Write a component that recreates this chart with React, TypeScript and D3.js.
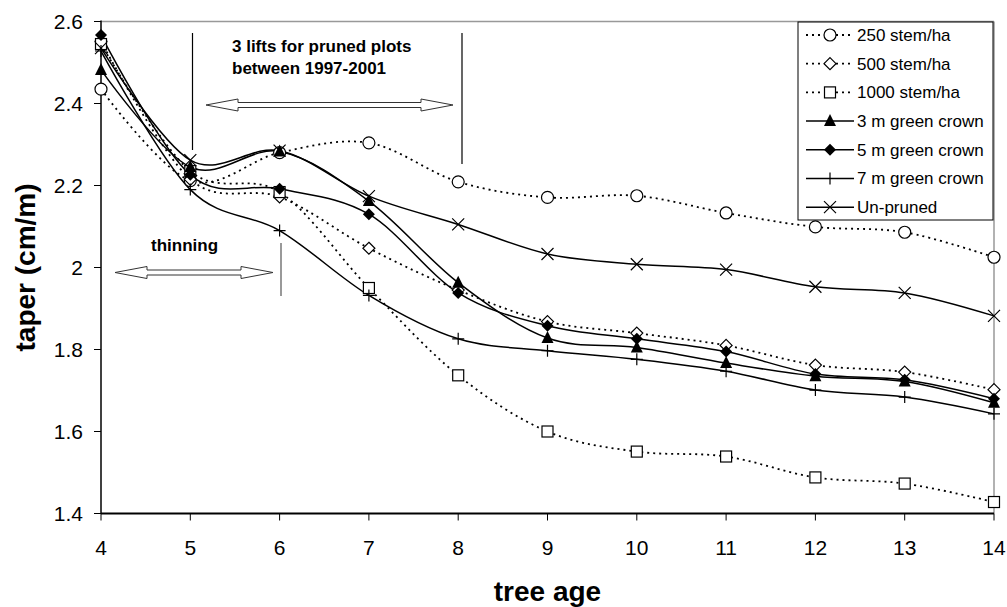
import React from "react";
import * as d3 from "d3";

const ages = [4, 5, 6, 7, 8, 9, 10, 11, 12, 13, 14];
const s250 = [2.435, 2.212, 2.28, 2.304, 2.209, 2.171, 2.175, 2.133, 2.099, 2.086, 2.025];
const s500 = [2.552, 2.215, 2.172, 2.047, 1.945, 1.868, 1.84, 1.81, 1.762, 1.745, 1.702];
const s1000 = [2.545, 2.235, 2.184, 1.95, 1.737, 1.6, 1.551, 1.539, 1.488, 1.473, 1.428];
const g3 = [2.482, 2.245, 2.283, 2.162, 1.963, 1.828, 1.805, 1.767, 1.735, 1.722, 1.67];
const g5 = [2.567, 2.226, 2.192, 2.13, 1.938, 1.858, 1.826, 1.795, 1.74, 1.726, 1.68];
const g7 = [2.528, 2.19, 2.09, 1.932, 1.826, 1.797, 1.776, 1.747, 1.701, 1.684, 1.643];
const unpruned = [2.535, 2.262, 2.285, 2.174, 2.105, 2.033, 2.008, 1.995, 1.953, 1.938, 1.882];
const yTicks = [1.4, 1.6, 1.8, 2, 2.2, 2.4, 2.6];

type Series = { name: string; values: number[]; dotted: boolean; marker: string };
const series: Series[] = [
  { name: "250 stem/ha", values: s250, dotted: true, marker: "circle" },
  { name: "500 stem/ha", values: s500, dotted: true, marker: "diamondOpen" },
  { name: "1000 stem/ha", values: s1000, dotted: true, marker: "square" },
  { name: "3 m green crown", values: g3, dotted: false, marker: "triangle" },
  { name: "5 m green crown", values: g5, dotted: false, marker: "diamond" },
  { name: "7 m green crown", values: g7, dotted: false, marker: "plus" },
  { name: "Un-pruned", values: unpruned, dotted: false, marker: "cross" },
];

const L = 101, R = 994, T = 21.5, B = 513.5;
const x = d3.scaleLinear().domain([4, 14]).range([L, R]);
const y = d3.scaleLinear().domain([1.4, 2.6]).range([B, T]);
const font = "Liberation Sans, Arial, sans-serif";

function Marker({ kind, cx, cy }: { kind: string; cx: number; cy: number }) {
  switch (kind) {
    case "circle":
      return <circle cx={cx} cy={cy} r={6} fill="white" stroke="black" strokeWidth={1.2} />;
    case "diamondOpen":
      return <path d={`M${cx},${cy - 6}L${cx + 6},${cy}L${cx},${cy + 6}L${cx - 6},${cy}Z`} fill="white" stroke="black" strokeWidth={1.2} />;
    case "square":
      return <rect x={cx - 5.5} y={cy - 5.5} width={11} height={11} fill="white" stroke="black" strokeWidth={1.2} />;
    case "triangle":
      return <path d={`M${cx},${cy - 7}L${cx + 6},${cy + 5}L${cx - 6},${cy + 5}Z`} fill="black" />;
    case "diamond":
      return <path d={`M${cx},${cy - 6}L${cx + 6},${cy}L${cx},${cy + 6}L${cx - 6},${cy}Z`} fill="black" />;
    case "plus":
      return <path d={`M${cx - 6},${cy}H${cx + 6}M${cx},${cy - 6}V${cy + 6}`} stroke="black" strokeWidth={1.2} />;
    case "cross":
      return <path d={`M${cx - 6},${cy - 6}L${cx + 6},${cy + 6}M${cx + 6},${cy - 6}L${cx - 6},${cy + 6}`} stroke="black" strokeWidth={1.2} />;
  }
  return null;
}

function DoubleArrow({ x1, x2, yy }: { x1: number; x2: number; yy: number }) {
  const hl = 32, hh = 6, sh = 2.5;
  const d = `M${x1},${yy}L${x1 + hl},${yy - hh}L${x1 + hl},${yy - sh}L${x2 - hl},${yy - sh}L${x2 - hl},${yy - hh}L${x2},${yy}L${x2 - hl},${yy + hh}L${x2 - hl},${yy + sh}L${x1 + hl},${yy + sh}L${x1 + hl},${yy + hh}Z`;
  return <path d={d} fill="white" stroke="#333" strokeWidth={1} />;
}

export default function App() {
  const line = d3
    .line<number>()
    .x((_, i) => x(ages[i]))
    .y((v) => y(v))
    .curve(d3.curveCardinal.tension(0));

  const legX = 798, legY = 22, legW = 195, legRow = 28.7;
  return (
    <svg width={1007} height={607} style={{ position: "absolute", left: 0, top: 0, background: "white" }}>
      {/* frame */}
      <line x1={L} y1={T} x2={R} y2={T} stroke="#999" strokeWidth={1.5} />
      <line x1={R} y1={T} x2={R} y2={B} stroke="#999" strokeWidth={1.5} />
      {/* y axis */}
      <line x1={L} y1={T - 1} x2={L} y2={B} stroke="black" strokeWidth={1.5} />
      {yTicks.map((t) => (
        <g key={t}>
          <line x1={L - 7} x2={L} y1={y(t)} y2={y(t)} stroke="black" strokeWidth={1} />
          <text x={L - 18} y={y(t)} dy="0.35em" textAnchor="end" fontFamily={font} fontSize={21}>
            {t === 2 ? "2" : t.toFixed(1)}
          </text>
        </g>
      ))}
      {/* x axis */}
      <line x1={L} y1={B} x2={R} y2={B} stroke="black" strokeWidth={2} />
      {ages.map((a) => (
        <g key={a}>
          <line x1={x(a)} x2={x(a)} y1={B} y2={B + 7} stroke="black" strokeWidth={1} />
          <text x={x(a)} y={548} dy="0.35em" textAnchor="middle" fontFamily={font} fontSize={21}>
            {a}
          </text>
        </g>
      ))}
      <text x={(L + R) / 2} y={591} dy="0.35em" textAnchor="middle" fontFamily={font} fontSize={28} fontWeight="bold">
        tree age
      </text>
      <text transform={`translate(25,${(T + B) / 2}) rotate(-90)`} dy="0.35em" textAnchor="middle" fontFamily={font} fontSize={28} fontWeight="bold">
        taper (cm/m)
      </text>

      {/* annotations */}
      <line x1={192.5} x2={192.5} y1={33} y2={150} stroke="black" strokeWidth={1.2} />
      <line x1={462} x2={462} y1={33} y2={164} stroke="black" strokeWidth={1.2} />
      <text x={232} y={46} dy="0.35em" fontFamily={font} fontSize={17} fontWeight="bold">3 lifts for pruned plots</text>
      <text x={232} y={68} dy="0.35em" fontFamily={font} fontSize={17} fontWeight="bold">between 1997-2001</text>
      <DoubleArrow x1={206} x2={453} yy={105} />
      <text x={151} y={245} dy="0.35em" fontFamily={font} fontSize={17} fontWeight="bold">thinning</text>
      <DoubleArrow x1={115} x2={273} yy={272.5} />
      <line x1={281} x2={281} y1={243} y2={296} stroke="#555" strokeWidth={1.2} />

      {/* lines */}
      {series.map((s) => (
        <path
          key={s.name}
          d={line(s.values) || ""}
          fill="none"
          stroke="black"
          strokeWidth={s.dotted ? 1.8 : 1.5}
          strokeDasharray={s.dotted ? "2,4" : undefined}
        />
      ))}
      {series.map((s) =>
        s.values.map((v, i) => <Marker key={s.name + i} kind={s.marker} cx={x(ages[i])} cy={y(v)} />)
      )}

      {/* legend */}
      <rect x={legX} y={legY} width={legW} height={198} fill="white" stroke="black" strokeWidth={1} />
      {series.map((s, i) => {
        const cy = legY + 13 + i * legRow;
        return (
          <g key={s.name}>
            <line x1={806} x2={854} y1={cy} y2={cy} stroke="black" strokeWidth={s.dotted ? 1.8 : 1.5} strokeDasharray={s.dotted ? "2,4" : undefined} />
            <Marker kind={s.marker} cx={830} cy={cy} />
            <text x={857} y={cy} dy="0.35em" fontFamily={font} fontSize={17}>
              {s.name}
            </text>
          </g>
        );
      })}
    </svg>
  );
}
